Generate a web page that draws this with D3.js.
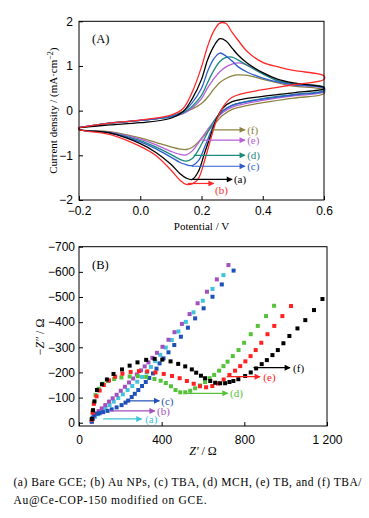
<!DOCTYPE html>
<html>
<head>
<meta charset="utf-8">
<script src="https://cdn.jsdelivr.net/npm/d3@7"></script>
<style>
  body { margin: 0; background: #fff; }
  svg { display: block; font-family: "Liberation Serif", "Times New Roman", serif; }
  .tick text { font-size: 12px; fill: #000; }
  .domain { display: none; }
  .tick line { stroke: #000; stroke-width: 1; }
</style>
</head>
<body>
<svg id="fig" width="369" height="518"></svg>
<script>
/*** DATA ***/

// (A) cyclic voltammetry: forward sweep (upper) and reverse sweep (lower), mA cm^-2
const cvUpV = [-0.2, -0.1, 0.0, 0.1, 0.14, 0.17, 0.2, 0.22, 0.24, 0.26, 0.28, 0.3, 0.32, 0.35, 0.4, 0.45, 0.5, 0.6];
const cvDnV = [-0.2, -0.1, 0.0, 0.05, 0.1, 0.13, 0.15, 0.17, 0.19, 0.21, 0.23, 0.25, 0.27, 0.3, 0.4, 0.5, 0.6];

const cvA_up = [-0.38, -0.32, -0.27, -0.17, -0.02, 0.27, 0.70, 1.14, 1.44, 1.61, 1.56, 1.40, 1.24, 1.06, 0.85, 0.70, 0.62, 0.52];
const cvB_up = [-0.38, -0.28, -0.21, -0.10, 0.05, 0.42, 0.98, 1.44, 1.78, 1.96, 1.95, 1.75, 1.57, 1.32, 1.08, 0.98, 0.90, 0.78];
const cvC_up = [-0.38, -0.28, -0.22, -0.13, -0.02, 0.18, 0.50, 0.88, 1.16, 1.29, 1.22, 1.11, 0.98, 0.86, 0.73, 0.64, 0.58, 0.50];
const cvD_up = [-0.38, -0.28, -0.22, -0.14, -0.05, 0.10, 0.34, 0.63, 0.90, 1.10, 1.19, 1.20, 1.13, 1.01, 0.82, 0.67, 0.60, 0.53];
const cvE_up = [-0.38, -0.28, -0.22, -0.14, -0.07, 0.06, 0.27, 0.51, 0.71, 0.87, 0.98, 1.04, 1.07, 1.02, 0.84, 0.66, 0.58, 0.50];
const cvF_up = [-0.38, -0.28, -0.22, -0.12, -0.03, 0.04, 0.16, 0.30, 0.48, 0.63, 0.72, 0.78, 0.80, 0.79, 0.70, 0.62, 0.55, 0.46];

const cvA_dn = [-0.42, -0.50, -0.74, -0.93, -1.20, -1.41, -1.51, -1.54, -1.36, -0.95, -0.55, -0.17, 0.06, 0.20, 0.32, 0.40, 0.49];
const cvB_dn = [-0.42, -0.53, -0.80, -1.00, -1.33, -1.56, -1.65, -1.64, -1.52, -1.12, -0.64, -0.20, 0.08, 0.30, 0.47, 0.58, 0.70];
const cvC_dn = [-0.42, -0.50, -0.70, -0.85, -1.04, -1.16, -1.21, -1.23, -1.12, -0.82, -0.48, -0.18, 0.00, 0.12, 0.26, 0.35, 0.44];
const cvD_dn = [-0.42, -0.49, -0.67, -0.81, -0.98, -1.09, -1.13, -1.07, -0.88, -0.62, -0.36, -0.14, 0.00, 0.12, 0.27, 0.36, 0.46];
const cvE_dn = [-0.42, -0.48, -0.64, -0.76, -0.91, -0.98, -0.99, -0.90, -0.72, -0.52, -0.33, -0.16, -0.04, 0.08, 0.23, 0.33, 0.42];
const cvF_dn = [-0.42, -0.47, -0.61, -0.71, -0.81, -0.86, -0.87, -0.82, -0.70, -0.55, -0.39, -0.24, -0.10, 0.03, 0.18, 0.28, 0.38];

const cvLabels = ["(a)", "(b)", "(c)", "(d)", "(e)", "(f)"];
const cvColors = ["#000000", "#ff2b2b", "#2f5fcf", "#1b8a7e", "#b65ed8", "#8c8240"];
// draw order: olive first, red last
const cvOrder = [5, 4, 3, 2, 0, 1];
// label arrows: [start V, end V, current, label V, label current]
const cvArrows = [
  [0.170, 0.300, -1.54, 0.306, -1.54],
  [0.155, 0.240, -1.63, 0.244, -1.77],
  [0.168, 0.342, -1.245, 0.349, -1.245],
  [0.175, 0.342, -1.00, 0.349, -1.00],
  [0.200, 0.342, -0.66, 0.349, -0.66],
  [0.235, 0.342, -0.43, 0.349, -0.43]
];

// (B) Nyquist plots: Z' and -Z'' in ohm
const eisA_re = [62, 68, 78, 93, 110, 128, 148, 168, 190, 212, 235, 258, 282, 305, 327, 348, 369, 393, 420, 449, 481, 517, 554, 599, 646, 699];
const eisA_im = [4, 15, 24, 34, 45, 57, 70, 84, 98, 113, 130, 146, 163, 182, 200, 222, 245, 270, 299, 329, 363, 401, 439, 485, 532, 587];
const eisB_re = [62, 66, 72, 82, 95, 110, 127, 145, 163, 182, 202, 222, 242, 262, 280, 300, 318, 336, 355, 377, 404, 433, 462, 498, 535, 574, 619, 667, 723];
const eisB_im = [4, 15, 26, 36, 46, 57, 70, 84, 97, 111, 127, 143, 160, 176, 192, 208, 224, 240, 258, 278, 302, 330, 360, 393, 432, 475, 521, 570, 627];
const eisC_re = [62, 66, 72, 85, 100, 117, 138, 158, 182, 206, 225, 238, 255, 270, 287, 305, 323, 340, 358, 375, 390, 409, 433, 461, 493, 527, 562, 603, 646, 691, 748];
const eisC_im = [5, 20, 30, 36, 38, 42, 47, 53, 61, 70, 80, 88, 102, 115, 130, 146, 162, 178, 196, 215, 236, 256, 280, 309, 342, 378, 415, 455, 501, 550, 605];
const eisD_re = [62, 66, 72, 80, 95, 115, 140, 170, 205, 245, 285, 325, 365, 395, 420, 445, 467, 490, 514, 538, 562, 586, 610, 632, 654, 678, 699, 719, 744, 772, 799, 831, 865, 905, 944];
const eisD_im = [12, 45, 80, 110, 135, 155, 166, 174, 180, 184, 185, 182, 174, 167, 158, 145, 130, 121, 121, 127, 137, 148, 162, 177, 190, 207, 225, 243, 265, 289, 318, 352, 385, 424, 465];
const eisE_re = [62, 66, 72, 85, 100, 120, 145, 175, 210, 250, 290, 330, 370, 410, 450, 487, 522, 555, 585, 615, 645, 672, 700, 728, 755, 780, 805, 830, 855, 882, 912, 945, 984, 1026];
const eisE_im = [12, 40, 75, 105, 128, 150, 168, 183, 195, 202, 205, 204, 200, 194, 186, 177, 166, 155, 145, 141, 146, 156, 172, 190, 207, 225, 244, 265, 289, 318, 352, 385, 424, 464];
const eisF_re = [62, 68, 75, 87, 111, 135, 167, 208, 245, 283, 325, 366, 403, 443, 480, 514, 546, 567, 590, 610, 635, 659, 683, 707, 728, 747, 771, 804, 831, 857, 884, 909, 936, 962, 989, 1018, 1057, 1095, 1137, 1178];
const eisF_im = [15, 50, 85, 130, 153, 172, 194, 212, 227, 240, 250, 254, 251, 244, 234, 224, 212, 199, 187, 177, 166, 159, 157, 157, 162, 166, 173, 186, 200, 216, 233, 249, 269, 289, 316, 345, 375, 408, 448, 492];

const eisColors = ["#3fc3dd", "#a24fbf", "#1f4fb8", "#55c23a", "#ff2020", "#000000"];
const eisOrder = [0, 1, 2, 3, 4, 5];
// label arrows: [start Z', end Z', -Z'', label Z']
const eisArrows = [
  [117, 303, 15, 320],
  [150, 367, 47, 378],
  [238, 389, 87, 398],
  [522, 720, 117, 731],
  [715, 876, 183, 892],
  [844, 1021, 219, 1036]
];

const yTicksB = [0, 100, 200, 300, 400, 500, 600, 700];
const xTicksB = [0, 400, 800, 1200];
const xTicksA = [-0.2, 0.0, 0.2, 0.4, 0.6];
const yTicksA = [-2, -1, 0, 1, 2];

/*** SETUP ***/

let svg = d3.select("#fig");
svg.append("rect").attr("width", 369).attr("height", 518).attr("fill", "#fff");

let defs = svg.append("defs");
function arrow_marker(id, color) {
    defs.append("marker")
        .attr("id", id)
        .attr("viewBox", "0 0 10 10")
        .attr("refX", 9).attr("refY", 5)
        .attr("markerUnits", "userSpaceOnUse")
        .attr("markerWidth", 8).attr("markerHeight", 6)
        .attr("orient", "auto")
        .append("path")
        .attr("d", "M0,0 L10,5 L0,10 Z")
        .attr("fill", color);
}
cvColors.forEach((c, i) => arrow_marker("arrA" + i, c));
eisColors.forEach((c, i) => arrow_marker("arrB" + i, c));

/*** PANEL A ***/

let xA = d3.scaleLinear().domain([-0.2, 0.6]).range([79, 324]),
    yA = d3.scaleLinear().domain([-2, 2]).range([200, 21.3]);

let gA = svg.append("g");

gA.append("g")
    .attr("transform", `translate(0, ${yA(-2)})`)
    .call(d3.axisBottom(xA).tickValues(xTicksA).tickSize(-4).tickPadding(6).tickFormat(d3.format(".1f")));

gA.append("g")
    .attr("transform", `translate(${xA(-0.2)}, 0)`)
    .call(d3.axisLeft(yA).tickValues(yTicksA).tickSize(-4).tickPadding(6).tickFormat(d3.format("d")));

const cvUp = [cvA_up, cvB_up, cvC_up, cvD_up, cvE_up, cvF_up],
      cvDn = [cvA_dn, cvB_dn, cvC_dn, cvD_dn, cvE_dn, cvF_dn];

let cvLine = d3.line()
    .x((d) => xA(d[0]))
    .y((d) => yA(d[1]))
    .curve(d3.curveCatmullRom.alpha(0.5));

cvOrder.forEach((i) => {
    let pts = cvUpV.map((v, k) => [v, cvUp[i][k]])
        .concat(cvDnV.map((v, k) => [v, cvDn[i][k]]).reverse());
    pts.push(pts[0]);
    gA.append("path")
        .attr("d", cvLine(pts))
        .attr("fill", "none")
        .attr("stroke", cvColors[i])
        .attr("stroke-width", 1.3);
});

cvArrows.forEach((a, i) => {
    gA.append("line")
        .attr("x1", xA(a[0])).attr("x2", xA(a[1]))
        .attr("y1", yA(a[2])).attr("y2", yA(a[2]))
        .attr("stroke", cvColors[i]).attr("stroke-width", 1.2)
        .attr("marker-end", `url(#arrA${i})`);
    gA.append("text")
        .attr("x", xA(a[3])).attr("y", yA(a[4]))
        .attr("dy", "0.35em")
        .attr("font-size", 11)
        .attr("fill", cvColors[i])
        .text(cvLabels[i]);
});

gA.append("rect")
    .attr("x", xA(-0.2)).attr("y", yA(2))
    .attr("width", xA(0.6) - xA(-0.2)).attr("height", yA(-2) - yA(2))
    .attr("fill", "none").attr("stroke", "#000").attr("stroke-width", 1);

gA.append("text")
    .attr("x", 92).attr("y", 43)
    .attr("font-size", 12.5)
    .text("(A)");

let ylabA = gA.append("text")
    .attr("transform", `translate(57, ${yA(0)}) rotate(-90)`)
    .attr("text-anchor", "middle")
    .attr("font-size", 11);
ylabA.append("tspan").text("Current density / (mA\u00b7cm");
ylabA.append("tspan").attr("font-size", 8).attr("dy", -4).text("\u22122");
ylabA.append("tspan").attr("dy", 4).text(")");

gA.append("text")
    .attr("x", (xA(-0.2) + xA(0.6)) / 2).attr("y", 230)
    .attr("text-anchor", "middle")
    .attr("font-size", 11)
    .text("Potential / V");

/*** PANEL B ***/

let xB = d3.scaleLinear().domain([0, 1200]).range([79, 327]),
    yB = d3.scaleLinear().domain([-13, 700]).range([426, 246.7]);

let gB = svg.append("g");

gB.append("g")
    .attr("transform", `translate(0, ${yB(-13)})`)
    .call(d3.axisBottom(xB).tickValues(xTicksB).tickSize(-4).tickPadding(9)
        .tickFormat((d) => d >= 1000 ? Math.floor(d / 1000) + " " + d3.format("03d")(d % 1000) : d));

gB.append("g")
    .attr("transform", `translate(${xB(0)}, 0)`)
    .call(d3.axisLeft(yB).tickValues(yTicksB).tickSize(-4).tickPadding(4)
        .tickFormat((d) => d === 0 ? "0" : "\u2212" + d));

const eisRe = [eisA_re, eisB_re, eisC_re, eisD_re, eisE_re, eisF_re],
      eisIm = [eisA_im, eisB_im, eisC_im, eisD_im, eisE_im, eisF_im];

eisOrder.forEach((i) => {
    let pts = eisRe[i].map((z, k) => [z, eisIm[i][k]]);
    gB.append("g").selectAll("rect")
        .data(pts).enter()
        .append("rect")
        .attr("x", (d) => xB(d[0]) - 2)
        .attr("y", (d) => yB(d[1]) - 2)
        .attr("width", 4).attr("height", 4)
        .attr("fill", eisColors[i]);
});

eisArrows.forEach((a, i) => {
    gB.append("line")
        .attr("x1", xB(a[0])).attr("x2", xB(a[1]))
        .attr("y1", yB(a[2])).attr("y2", yB(a[2]))
        .attr("stroke", eisColors[i]).attr("stroke-width", 1.2)
        .attr("marker-end", `url(#arrB${i})`);
    gB.append("text")
        .attr("x", xB(a[3])).attr("y", yB(a[2]))
        .attr("dy", "0.35em")
        .attr("font-size", 11)
        .attr("fill", eisColors[i])
        .text(cvLabels[i]);
});

gB.append("rect")
    .attr("x", xB(0)).attr("y", yB(700))
    .attr("width", xB(1200) - xB(0)).attr("height", yB(-13) - yB(700))
    .attr("fill", "none").attr("stroke", "#000").attr("stroke-width", 1);

gB.append("text")
    .attr("x", 92).attr("y", 269)
    .attr("font-size", 12.5)
    .text("(B)");

let ylabB = gB.append("text")
    .attr("transform", `translate(44, 337) rotate(-90)`)
    .attr("text-anchor", "middle")
    .attr("font-size", 12);
ylabB.append("tspan").text("\u2212");
ylabB.append("tspan").attr("font-style", "italic").text("Z\u2033");
ylabB.append("tspan").text(" / \u03a9");

let xlabB = gB.append("text")
    .attr("x", 203).attr("y", 455)
    .attr("text-anchor", "middle")
    .attr("font-size", 12);
xlabB.append("tspan").attr("font-style", "italic").text("Z\u2032");
xlabB.append("tspan").text(" / \u03a9");

/*** CAPTION ***/

svg.append("text")
    .attr("x", 13.5).attr("y", 485.5)
    .attr("font-size", 11.5)
    .attr("textLength", 348).attr("lengthAdjust", "spacing")
    .text("(a) Bare GCE; (b) Au NPs, (c) TBA, (d) MCH, (e) TB, and (f) TBA/");

svg.append("text")
    .attr("x", 13.5).attr("y", 504)
    .attr("font-size", 11.5)
    .attr("textLength", 193).attr("lengthAdjust", "spacing")
    .text("Au@Ce-COP-150 modified on GCE.");
</script>
</body>
</html>
